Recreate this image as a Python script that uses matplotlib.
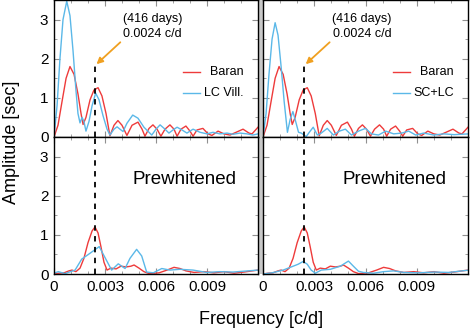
import numpy as np
import matplotlib
matplotlib.use("Agg")
import matplotlib.pyplot as plt
from matplotlib.patches import Rectangle

plt.rcParams['font.family'] = ['Liberation Sans', 'DejaVu Sans']

# top row: Baran (same in both panels)
f_baran = [0, 0.000235, 0.00047, 0.00071, 0.00094, 0.00118, 0.00141, 0.00159, 0.00171,
           0.00188, 0.00212, 0.00235, 0.00259, 0.00282, 0.00306, 0.00329, 0.00353,
           0.00376, 0.0040, 0.00429, 0.00459, 0.00494, 0.00518, 0.00535, 0.00559,
           0.00582, 0.00606, 0.00629, 0.00653, 0.00682, 0.00706, 0.00724, 0.00747,
           0.00776, 0.0080, 0.00818, 0.00841, 0.00876, 0.00906, 0.00929, 0.00965,
           0.0100, 0.01035, 0.01071, 0.01112, 0.01147, 0.01165, 0.0120]
a_baran = [0, 0.3, 0.9, 1.5, 1.80, 1.6, 1.1, 0.6, 0.32,
           0.5, 0.95, 1.2, 1.26, 1.05, 0.6, 0.03, 0.3,
           0.42, 0.3, 0.04, 0.3, 0.38, 0.2, 0.02, 0.22,
           0.31, 0.2, 0.02, 0.2, 0.31, 0.2, 0.02, 0.2,
           0.28, 0.15, 0.02, 0.18, 0.22, 0.08, 0.04, 0.15,
           0.08, 0.05, 0.12, 0.2, 0.1, 0.08, 0.25]

# top-left: LC Vill.
f_lcv = [0, 0.00018, 0.00035, 0.00053, 0.00075, 0.00094, 0.00112, 0.00129, 0.00141,
         0.00153, 0.00165, 0.00176, 0.00188, 0.00206, 0.00224, 0.00245, 0.00265,
         0.00288, 0.00312, 0.00329, 0.00353, 0.00371, 0.00388, 0.00406, 0.00429,
         0.00463, 0.00494, 0.00529, 0.00575, 0.0060, 0.00624, 0.00653, 0.00676,
         0.0070, 0.00724, 0.00753, 0.00782, 0.00818, 0.00859, 0.0090, 0.00935,
         0.00976, 0.01018, 0.01053, 0.01094, 0.01135, 0.0117, 0.0120]
a_lcv = [0, 0.8, 2.0, 3.0, 3.47, 3.1, 2.2, 1.2, 0.6,
         0.36, 0.5, 0.4, 0.15, 0.4, 0.8, 1.12, 0.95,
         0.55, 0.2, 0.05, 0.2, 0.26, 0.2, 0.14, 0.35,
         0.56, 0.48, 0.25, 0.05, 0.2, 0.31, 0.2, 0.1,
         0.18, 0.25, 0.18, 0.1, 0.2, 0.12, 0.08, 0.12,
         0.08, 0.1, 0.07, 0.1, 0.08, 0.05, 0.08]

# top-right: SC+LC
f_sclc = [0, 0.00018, 0.00035, 0.00053, 0.00071, 0.00088, 0.00106, 0.00124, 0.00143,
          0.00159, 0.00175, 0.00188, 0.00208, 0.00224, 0.00253, 0.00271, 0.00294,
          0.00318, 0.00341, 0.00376, 0.00412, 0.00447, 0.00482, 0.00518, 0.00559,
          0.0060, 0.00635, 0.00676, 0.00718, 0.00765, 0.00812, 0.00853, 0.00894,
          0.0094, 0.0100, 0.01059, 0.01118, 0.01206]
a_sclc = [0, 0.6, 1.6, 2.5, 2.92, 2.6, 1.8, 0.9, 0.12,
          0.45, 0.65, 0.45, 0.12, 0.1, 0.01, 0.12, 0.25,
          0.05, 0.1, 0.22, 0.05, 0.15, 0.2, 0.05, 0.15,
          0.22, 0.08, 0.05, 0.15, 0.08, 0.1, 0.15, 0.05,
          0.1, 0.05, 0.08, 0.06, 0.08]

# bottom row: Baran prewhitened (same in both panels)
f_baran_pw = [0, 0.00029, 0.00059, 0.00088, 0.00106, 0.00129, 0.00153, 0.00176, 0.0020,
              0.00224, 0.00241, 0.00259, 0.00276, 0.00294, 0.00312, 0.00335, 0.00365,
              0.00394, 0.00424, 0.00453, 0.00471, 0.005, 0.00529, 0.00559, 0.00618,
              0.00665, 0.00706, 0.00741, 0.00776, 0.00824, 0.00882, 0.00941, 0.0100,
              0.01059, 0.01118, 0.0120]
a_baran_pw = [0, 0.02, 0.03, 0.08, 0.1, 0.06, 0.15, 0.4, 0.8,
              1.1, 1.2, 1.05, 0.7, 0.3, 0.1, 0.15, 0.13,
              0.2, 0.18, 0.2, 0.23, 0.15, 0.06, 0.01, 0.03,
              0.1, 0.17, 0.14, 0.08, 0.04, 0.06, 0.03, 0.06,
              0.02, 0.05, 0.1]

# bottom-left: LC Vill. prewhitened
f_lcv_pw = [0, 0.00025, 0.00065, 0.00124, 0.00163, 0.00212, 0.00266, 0.003, 0.00339,
            0.00378, 0.00418, 0.00447, 0.00486, 0.00516, 0.00545, 0.00584, 0.00634,
            0.00682, 0.00741, 0.00818, 0.00898, 0.00976, 0.01053, 0.0120]
a_lcv_pw = [0.02, 0.06, 0.01, 0.1, 0.38, 0.53, 0.70, 0.42, 0.1,
            0.26, 0.14, 0.4, 0.63, 0.46, 0.05, 0.03, 0.14,
            0.1, 0.12, 0.1, 0.04, 0.06, 0.05, 0.1]

# bottom-right: SC+LC prewhitened
f_sclc_pw = [0, 0.00053, 0.00118, 0.00171, 0.00206, 0.00235, 0.00259, 0.00282, 0.00306,
             0.00341, 0.00394, 0.00453, 0.005, 0.00529, 0.00559, 0.00588, 0.00647,
             0.00706, 0.00765, 0.00824, 0.00912, 0.01, 0.01088, 0.01206]
a_sclc_pw = [0, 0.03, 0.1, 0.19, 0.25, 0.32, 0.25, 0.1, 0.02,
             0.1, 0.12, 0.2, 0.33, 0.2, 0.07, 0.04, 0.02,
             0.06, 0.08, 0.04, 0.03, 0.05, 0.04, 0.1]

f_mark = 0.0024
red = '#ee3b3b'
blue = '#5bb8e8'
orange = '#f0a020'

W, H = 471, 330
fig = plt.figure(figsize=(W / 100, H / 100), dpi=100)

cols = [(54, 204), (263, 205)]
rows = [(0, 137), (137, 137)]
axes = {}
for r, (y0, h) in enumerate(rows):
    for c, (x0, w) in enumerate(cols):
        ax = fig.add_axes([x0 / W, 1 - (y0 + h) / H, w / W, h / H])
        ax.set_xlim(0, 0.012)
        ax.set_ylim(0, 3.5)
        ax.set_xticks([0, 0.003, 0.006, 0.009])
        ax.set_xticks(np.arange(0, 0.0121, 0.001), minor=True)
        ax.set_yticks([0, 1, 2, 3])
        ax.set_yticks(np.arange(0, 3.51, 0.5), minor=True)
        ax.tick_params(which='both', direction='in', top=True, right=True,
                       color='#909090', labelsize=11, pad=4)
        ax.tick_params(which='major', length=4)
        ax.tick_params(which='minor', length=2.5)
        ax.set_xticklabels(['0', '0.003', '0.006', '0.009'])
        if r == 0:
            ax.tick_params(labelbottom=False)
        if c == 1:
            ax.tick_params(labelleft=False)
        for s in ax.spines.values():
            s.set_linewidth(1.0)
        axes[(r, c)] = ax

# light gray strip between the two columns
fig.add_artist(Rectangle((258.5 / W, 1 - 274 / H), 4 / W, 274 / H,
                         transform=fig.transFigure, color='#c8c8c8', lw=0, zorder=0))

lw = 1.0
# top row
ax = axes[(0, 0)]
ax.plot(f_baran, a_baran, color=red, lw=lw)
ax.plot(f_lcv, a_lcv, color=blue, lw=lw)
ax = axes[(0, 1)]
ax.plot(f_baran, a_baran, color=red, lw=lw)
ax.plot(f_sclc, a_sclc, color=blue, lw=lw)
# bottom row
ax = axes[(1, 0)]
ax.plot(f_baran_pw, a_baran_pw, color=red, lw=lw)
ax.plot(f_lcv_pw, a_lcv_pw, color=blue, lw=lw)
ax = axes[(1, 1)]
ax.plot(f_baran_pw, a_baran_pw, color=red, lw=lw)
ax.plot(f_sclc_pw, a_sclc_pw, color=blue, lw=lw)

for c, other in enumerate(['LC Vill.', 'SC+LC']):
    top = axes[(0, c)]
    bot = axes[(1, c)]
    top.axvline(f_mark, ymax=1.83 / 3.5, color='black', lw=1.3, ls=(0, (3, 3)))
    bot.axvline(f_mark, color='black', lw=1.3, ls=(0, (3, 3)))
    top.annotate('', xy=(0.00250, 1.86), xytext=(0.0039, 2.42),
                 arrowprops=dict(arrowstyle='-|>', color=orange, lw=1.3,
                                 mutation_scale=9, shrinkA=0, shrinkB=0))
    top.text(0.0058, 2.82, '(416 days)\n0.0024 c/d', ha='center', va='center',
             fontsize=9, linespacing=1.4)
    # legend drawn by hand, text right-aligned
    for y, lab, col in [(0.477, 'Baran', red), (0.323, other, blue)]:
        top.plot([0.632, 0.716], [y, y], color=col, lw=lw, transform=top.transAxes)
        top.text(0.93, y, lab, ha='right', va='center', fontsize=9,
                 transform=top.transAxes)
    bot.text(0.0077, 2.41, 'Prewhitened', ha='center', va='center', fontsize=13.5)

fig.text(12 / W, 1 - 142 / H, 'Amplitude [sec]', rotation=90, ha='center',
         va='center', fontsize=13)
fig.text(261 / W, 1 - 320 / H, 'Frequency [c/d]', ha='center', va='center',
         fontsize=13)

fig.savefig('out.png', dpi=100)
